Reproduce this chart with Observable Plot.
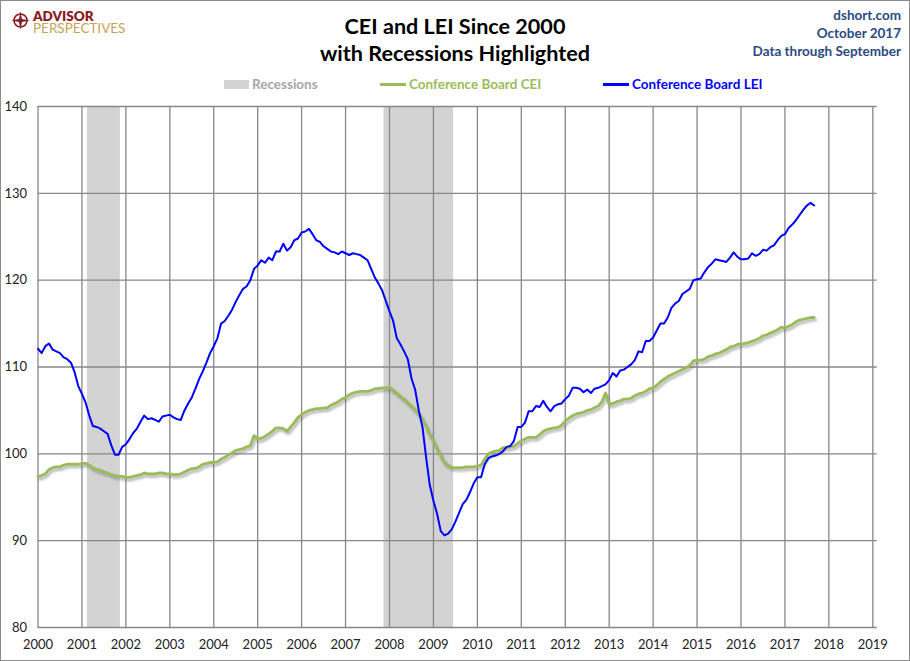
<!DOCTYPE html>
<html><head><meta charset="utf-8">
<script src="https://cdn.jsdelivr.net/npm/d3@7"></script>
<script src="https://cdn.jsdelivr.net/npm/@observablehq/plot@0.6"></script>
<style>
body{margin:0;background:#fff;font-family:Lato,"Open Sans",sans-serif;}
#wrap{position:relative;width:910px;height:661px;overflow:hidden;background:#fff;}
#chart{position:absolute;left:0;top:0;}
#frame{position:absolute;left:0;top:0;width:910px;height:661px;box-sizing:border-box;border:1px solid #8c8c8c;pointer-events:none;}
.t{position:absolute;white-space:nowrap;}
.title{left:0;width:910px;text-align:center;font-weight:700;font-size:21.6px;line-height:28px;color:#000;}
.src{right:9px;top:6px;text-align:right;font-weight:700;font-size:13.5px;line-height:18px;color:#2a4a80;}
.leg{font-size:13.5px;line-height:16px;top:76px;}
#logo{position:absolute;left:33px;top:10px;width:100px;font-size:13.5px;line-height:12px;color:#c6a25a;white-space:normal;}
#logo::first-line{font-weight:800;color:#8b1c24;}
</style>
</head><body>
<div id="wrap">
  <div id="chart"></div>
  <svg class="t" style="left:11px;top:11px" width="19" height="19" viewBox="0 0 19 19">
    <circle cx="9.5" cy="9.5" r="6.5" fill="none" stroke="#8b1c24" stroke-width="1.6"/>
    <polygon points="9.5,0 11,8 19,9.5 11,11 9.5,19 8,11 0,9.5 8,8" fill="#8b1c24"/>
  </svg>
  <div id="logo">ADVISOR PERSPECTIVES</div>
  <div class="t title" style="top:12px">CEI and LEI Since 2000</div>
  <div class="t title" style="top:39px">with Recessions Highlighted</div>
  <div class="t src">dshort.com<br>October 2017<br>Data through September</div>
  <div class="t" style="left:224px;top:80px;width:25px;height:9px;background:#d3d3d3"></div>
  <div class="t leg" style="left:252px;color:#a6a6a6;font-weight:700">Recessions</div>
  <div class="t" style="left:380px;top:83px;width:26px;height:3px;background:#9bbb59"></div>
  <div class="t leg" style="left:409px;color:#9bbb59;font-weight:700">Conference Board CEI</div>
  <div class="t" style="left:603px;top:83px;width:26px;height:3px;background:#0000ff"></div>
  <div class="t leg" style="left:632px;color:#0000ff;font-weight:700">Conference Board LEI</div>
  <div id="frame"></div>
</div>
<script>
// Monthly values, Jan 2000 .. Sep 2017
const startYear = 2000;
const leiValues = [
 112.1,111.6,112.4,112.7,112.0,111.8,111.6,111.1,110.9,110.5,109.4,107.8, // 2000
 106.9,105.9,104.4,103.2,103.1,102.9,102.6,102.3,101.0,99.9,99.9,100.8,   // 2001
 101.1,101.7,102.4,102.9,103.7,104.4,104.0,104.1,103.9,103.7,104.3,104.4, // 2002
 104.5,104.2,104.0,103.9,105.0,105.8,106.5,107.5,108.6,109.5,110.5,111.6, // 2003
 112.4,113.3,115.0,115.3,115.9,116.6,117.5,118.3,119.0,119.3,120.0,121.3, // 2004
 121.7,122.3,122.0,122.6,122.3,123.3,123.3,124.2,123.4,123.8,124.6,124.8, // 2005
 125.5,125.6,125.9,125.3,124.6,124.4,123.9,123.6,123.3,123.2,123.0,123.3, // 2006
 123.1,122.9,123.1,123.0,122.9,122.6,122.3,121.3,120.3,119.6,118.8,117.6, // 2007
 116.4,115.3,113.3,112.6,111.8,110.9,108.7,107.4,105.0,103.1,99.6,96.4,   // 2008
 94.6,93.1,91.1,90.6,90.8,91.3,92.2,93.2,94.2,94.7,95.6,96.6,             // 2009
 97.3,97.3,98.8,99.5,99.7,99.8,100.0,100.3,100.8,100.9,101.5,103.1,       // 2010
 103.1,103.6,104.9,104.9,105.5,105.4,106.1,105.4,104.9,105.5,105.7,105.8, // 2011
 106.3,106.7,107.6,107.6,107.5,107.1,107.4,107.0,107.5,107.6,107.8,108.0, // 2012
 108.5,109.3,108.9,109.6,109.7,110.0,110.3,110.8,111.8,111.7,113.0,113.0, // 2013
 113.4,114.2,115.0,115.0,115.7,116.8,117.3,117.6,118.4,118.7,119.0,120.0, // 2014
 120.1,120.2,120.9,121.5,121.9,122.4,122.3,122.2,122.1,122.6,123.2,122.7, // 2015
 122.4,122.4,122.5,123.1,122.8,123.0,123.5,123.4,123.8,124.0,124.6,125.1, // 2016
 125.3,126.0,126.4,126.9,127.5,128.1,128.6,128.9,128.6                    // 2017
];
const ceiValues = [
 97.4,97.5,97.7,98.2,98.4,98.5,98.5,98.7,98.8,98.8,98.8,98.8,             // 2000
 98.9,98.9,98.7,98.4,98.2,98.1,97.9,97.8,97.6,97.5,97.4,97.4,             // 2001
 97.3,97.3,97.4,97.5,97.6,97.8,97.7,97.7,97.7,97.8,97.8,97.7,             // 2002
 97.7,97.6,97.6,97.7,97.9,98.1,98.3,98.3,98.5,98.8,98.9,99.0,             // 2003
 99.0,99.1,99.4,99.6,99.9,100.1,100.4,100.5,100.6,100.8,100.95,102.1,     // 2004
 101.7,101.8,102.0,102.3,102.6,103.0,103.0,102.9,102.6,103.1,103.6,104.2, // 2005
 104.5,104.8,105.0,105.1,105.2,105.2,105.3,105.3,105.6,105.8,106.0,106.3, // 2006
 106.5,106.8,107.0,107.1,107.2,107.2,107.2,107.3,107.5,107.5,107.6,107.6, // 2007
 107.7,107.3,107.0,106.6,106.3,105.9,105.5,105.1,104.6,104.0,103.2,102.2, // 2008
 101.5,100.6,99.8,99.0,98.7,98.4,98.4,98.4,98.4,98.5,98.5,98.5,           // 2009
 98.6,98.7,99.4,100.0,100.2,100.3,100.4,100.7,100.7,100.8,100.9,101.2,    // 2010
 101.5,101.7,101.9,101.9,101.9,102.2,102.6,102.8,102.9,103.0,103.05,103.3,// 2011
 103.8,104.1,104.4,104.6,104.7,104.8,105.0,105.1,105.3,105.5,106.0,107.0, // 2012
 105.7,105.8,106.0,106.1,106.3,106.3,106.4,106.7,106.9,107.0,107.2,107.5, // 2013
 107.6,107.9,108.3,108.6,108.9,109.1,109.3,109.5,109.7,109.9,110.2,110.7, // 2014
 110.8,110.8,110.9,111.2,111.3,111.5,111.6,111.8,112.0,112.3,112.4,112.6, // 2015
 112.7,112.7,112.8,112.95,113.1,113.3,113.6,113.7,113.9,114.1,114.3,114.6,// 2016
 114.5,114.7,114.9,115.2,115.4,115.5,115.6,115.7,115.7                    // 2017
];
// Recessions (first and last month, decimal year of month start)
const recessionStart = [2001 + 2/12, 2007 + 11/12];
const recessionEnd   = [2001 + 10/12, 2009 + 5/12];
const xTicks = [2000,2001,2002,2003,2004,2005,2006,2007,2008,2009,2010,2011,2012,2013,2014,2015,2016,2017,2018,2019];
const yTicks = [80,90,100,110,120,130,140];

const rows = leiValues.map((v, i) => ({t: startYear + i / 12, lei: v, cei: ceiValues[i]}));
const recessions = recessionStart.map((s, i) => ({s, e: recessionEnd[i]}));
const half = 1 / 24;
const gridCol = "#878787";

const chart = Plot.plot({
  width: 910, height: 661,
  marginLeft: 37.5, marginRight: 33.3, marginTop: 106, marginBottom: 34,
  style: {fontFamily: "Lato, 'Open Sans', sans-serif", fontSize: "13px", background: "transparent", color: "#222"},
  x: {type: "linear", domain: [2000, 2019.1], label: null},
  y: {domain: [80, 140], label: null},
  marks: [
    Plot.rect(recessions, {x1: d => d.s - half, x2: d => d.e + half, fill: "#d3d3d3"}),
    Plot.ruleX(xTicks.slice(1), {stroke: gridCol, strokeWidth: 1.3}),
    Plot.ruleY(yTicks.slice(1), {stroke: gridCol, strokeWidth: 1.3}),
    Plot.ruleX([xTicks[0]], {stroke: gridCol, strokeWidth: 1.3}),
    Plot.ruleY([yTicks[0]], {stroke: gridCol, strokeWidth: 1.3}),
    Plot.line(rows, {x: "t", y: "cei", stroke: "#6b6b6b", strokeOpacity: 0.45, strokeWidth: 3.2, dx: 1.5, dy: 2.5, imageFilter: "blur(1.2px)"}),
    Plot.line(rows, {x: "t", y: "cei", stroke: "#9bbb59", strokeWidth: 2.8}),
    Plot.line(rows, {x: "t", y: "lei", stroke: "#0000ff", strokeWidth: 2}),
    Plot.axisX(xTicks, {tickSize: 0, tickPadding: 12, tickFormat: d => String(d), fill: "#222", fontSize: 13, label: null}),
    Plot.axisY(yTicks, {tickSize: 0, tickPadding: 11, fill: "#222", fontSize: 13, label: null})
  ]
});
document.getElementById("chart").appendChild(chart);
</script>
</body></html>
